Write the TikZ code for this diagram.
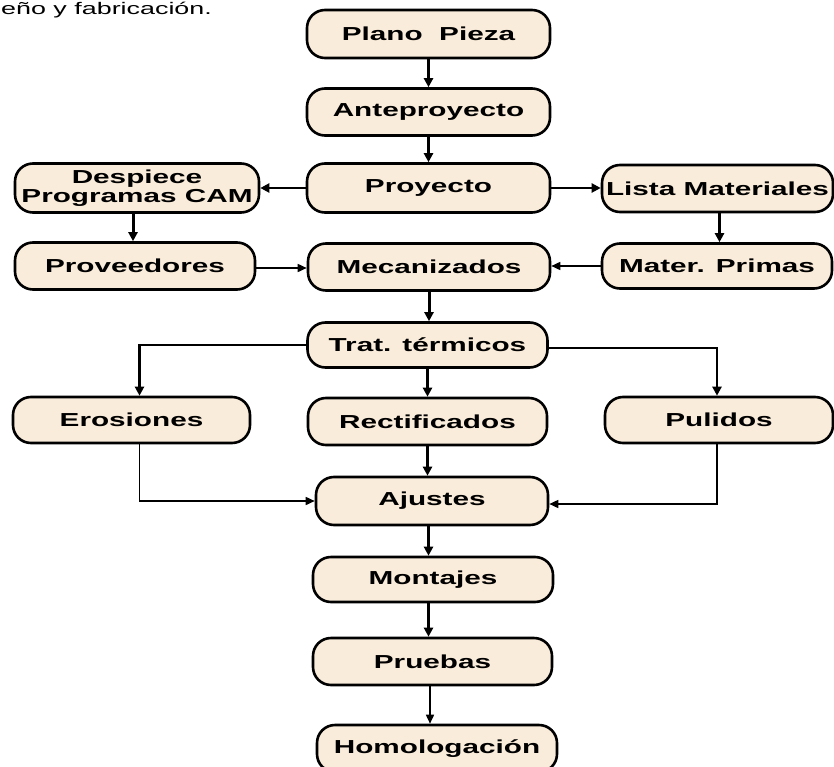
\documentclass[tikz,border=0pt]{standalone}
\usepackage{fontspec}
\usetikzlibrary{arrows.meta}
\newfontfamily\boxfont[FakeStretch=1.58]{Liberation Sans Bold}
\newfontfamily\topfont[FakeStretch=1.6]{Liberation Sans}
\definecolor{boxfill}{RGB}{250,236,218}
\tikzset{
  stepbox/.style={draw=black, line width=2.6pt, fill=boxfill, rounded corners=18pt,
    inner sep=0pt, align=center, font=\boxfont\fontsize{18.8}{19.5}\selectfont},
  arr/.style={-{Triangle[length=9pt,width=9pt]}, line width=3pt},
  medarr/.style={-{Triangle[length=9pt,width=9pt]}, line width=2.2pt},
  thinarr/.style={-{Triangle[length=9pt,width=8pt]}, line width=1.6pt}
}
\begin{document}
\begin{tikzpicture}[x=1pt,y=-1pt]
\useasboundingbox (0,0) rectangle (834,767);
\clip (0,0) rectangle (834,767);
\node[anchor=base west, font=\topfont\fontsize{16.8}{18}\selectfont, inner sep=0pt] (title) at (1,15) {eño y fabricación.};
% main column
\node[stepbox, minimum width=243pt, minimum height=48pt] (plano) at (428.5,34) {Plano\ \ Pieza};
\node[stepbox, minimum width=243pt, minimum height=47pt] (ante) at (428.5,112) {Anteproyecto};
\node[stepbox, minimum width=243pt, minimum height=49pt] (proy) at (428.5,188) {Proyecto};
\node[stepbox, minimum width=244pt, minimum height=49pt] (desp) at (137,188) {Despiece\\Programas CAM};
\node[stepbox, minimum width=231pt, minimum height=47pt] (lista) at (717.5,188.5) {Lista Materiales};
\node[stepbox, minimum width=240pt, minimum height=47pt] (prov) at (135,266) {Proveedores};
\node[stepbox, minimum width=242pt, minimum height=47pt] (mec) at (429,267) {Mecanizados};
\node[stepbox, minimum width=230pt, minimum height=45pt] (mater) at (717,266) {Mater. Primas};
\node[stepbox, minimum width=240pt, minimum height=45pt] (trat) at (427.5,345) {Trat. térmicos};
\node[stepbox, minimum width=237pt, minimum height=46pt] (eros) at (131.5,420) {Erosiones};
\node[stepbox, minimum width=239pt, minimum height=47pt] (rect) at (427.5,421.5) {Rectificados};
\node[stepbox, minimum width=228pt, minimum height=46pt] (pul) at (719,420) {Pulidos};
\node[stepbox, minimum width=232pt, minimum height=48pt] (ajus) at (432,501) {Ajustes};
\node[stepbox, minimum width=240pt, minimum height=45pt] (mont) at (433,579.5) {Montajes};
\node[stepbox, minimum width=239pt, minimum height=47pt] (prue) at (432.5,661.5) {Pruebas};
\node[stepbox, minimum width=240pt, minimum height=47pt] (homo) at (437,748.5) {Homologación};
% connectors
\draw[arr] (plano.south) -- (plano.south |- ante.north);
\draw[arr] (ante.south) -- (ante.south |- proy.north);
\draw[medarr] (proy.west) -- (proy.west -| desp.east);
\draw[medarr] (proy.east) -- (proy.east -| lista.west);
\draw[arr] ([xshift=-4pt]desp.south) -- ([xshift=-4pt]desp.south |- prov.north);
\draw[arr] ([xshift=2pt]lista.south) -- ([xshift=2pt]lista.south |- mater.north);
\draw[thinarr] ([yshift=-2pt]prov.east) -- ([yshift=-2pt]prov.east -| mec.west);
\draw[thinarr] (mater.west) -- (mater.west -| mec.east);
\draw[arr] (mec.south) -- (mec.south |- trat.north);
\draw[medarr] (trat.west) -| ([xshift=8pt]eros.north);
\draw[medarr] ([yshift=-3pt]trat.east) -| ([xshift=-2pt]pul.north);
\draw[arr] (trat.south) -- (trat.south |- rect.north);
\draw[arr] (rect.south) -- (rect.south |- ajus.north);
\draw[thinarr] ([xshift=8pt]eros.south) |- (ajus.west);
\draw[thinarr] ([xshift=-2pt]pul.south) |- ([yshift=-3pt]ajus.east);
\draw[arr] (proy.south |- ajus.south) -- (proy.south |- mont.north);
\draw[arr] (proy.south |- mont.south) -- (proy.south |- prue.north);
\draw[thinarr] ([xshift=1.5pt]proy.south |- prue.south) -- ([xshift=1.5pt]proy.south |- homo.north);
\end{tikzpicture}
\end{document}
